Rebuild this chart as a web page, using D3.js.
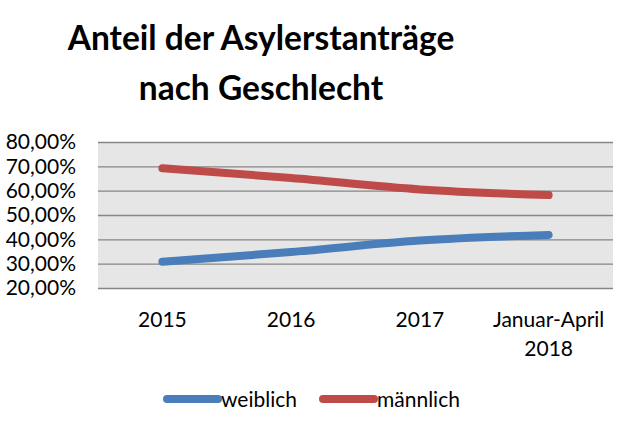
<!DOCTYPE html>
<html>
<head>
<meta charset="utf-8">
<script src="https://cdn.jsdelivr.net/npm/d3@7"></script>
<style>
  body { margin: 0; background: #fff; }
  text { font-family: Lato, "Open Sans", sans-serif; fill: #000; }
  .grid line { stroke: #868686; stroke-width: 1.3; }
  .domain { display: none; }
</style>
</head>
<body>
<script>
// data
const categories = ["2015", "2016", "2017", "Januar-April 2018"];
const weiblich = [30.8, 34.8, 39.5, 41.8];
const maennlich = [69.2, 65.2, 60.5, 58.2];
const yTicks = [20, 30, 40, 50, 60, 70, 80];
const titleLines = ["Anteil der Asylerstanträge", "nach Geschlecht"];

const width = 626, height = 421;
const margin = {top: 142, right: 13, bottom: 133, left: 98};
const w = width - margin.left - margin.right;
const h = height - margin.top - margin.bottom;

let svg = d3.select("body").append("svg")
    .attr("width", width)
    .attr("height", height);

// title
svg.append("text")
    .attr("x", 261)
    .attr("y", 50)
    .style("text-anchor", "middle")
    .style("font-weight", "bold")
    .style("font-size", "33.5px")
    .selectAll("tspan")
    .data(titleLines)
    .join("tspan")
    .attr("x", 261)
    .attr("dy", (d, i) => i ? 50 : 0)
    .text(d => d);

let g = svg.append("g")
    .attr("transform", "translate(" + margin.left + "," + margin.top + ")");

let x = d3.scaleBand()
    .domain(categories)
    .range([0, w]);

let y = d3.scaleLinear()
    .domain([20, 80])
    .range([h, 0]);

g.append("rect")
    .attr("width", w)
    .attr("height", h)
    .attr("fill", "#e6e6e6");

g.append("g")
    .attr("class", "grid")
    .call(d3.axisLeft(y).tickValues(yTicks).tickSize(-w).tickFormat(""));

let yAxis = g.append("g")
    .call(d3.axisLeft(y).tickValues(yTicks).tickSize(0).tickPadding(22)
        .tickFormat(d => d3.format(".2f")(d).replace(".", ",") + "%"));
yAxis.selectAll("text").style("font-size", "21px");

let xAxis = g.append("g")
    .attr("transform", "translate(0," + h + ")")
    .call(d3.axisBottom(x).tickSize(0).tickPadding(16).tickFormat(""));
xAxis.selectAll(".tick").append("text")
    .attr("y", 39)
    .style("text-anchor", "middle")
    .style("font-size", "21px")
    .selectAll("tspan")
    .data(d => d.startsWith("Januar") ? ["Januar-April", "2018"] : [d])
    .join("tspan")
    .attr("x", 0)
    .attr("dy", (d, i) => i ? 29 : 0)
    .text(d => d);

let line = d3.line()
    .x((d, i) => x(categories[i]) + x.bandwidth() / 2)
    .y(d => y(d))
    .curve(d3.curveMonotoneX);

const series = [
    {name: "weiblich", values: weiblich, color: "#4a7ebb"},
    {name: "männlich", values: maennlich, color: "#be4b48"}
];

g.selectAll(".series")
    .data(series)
    .join("path")
    .attr("class", "series")
    .attr("d", d => line(d.values))
    .attr("fill", "none")
    .attr("stroke", d => d.color)
    .attr("stroke-width", 8)
    .attr("stroke-linecap", "round")
    .attr("stroke-linejoin", "round");

// legend
let legend = svg.append("g")
    .selectAll("g")
    .data(series)
    .join("g")
    .attr("transform", (d, i) => "translate(" + (167 + i * 156) + ",399)");
legend.append("line")
    .attr("x1", 0).attr("x2", 51)
    .attr("stroke", d => d.color)
    .attr("stroke-width", 8)
    .attr("stroke-linecap", "round");
legend.append("text")
    .attr("x", 54)
    .attr("y", 8)
    .style("font-size", "21px")
    .text(d => d.name);
</script>
</body>
</html>
